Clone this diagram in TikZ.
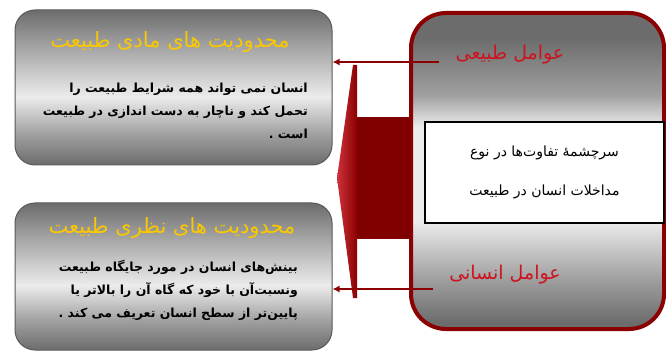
\documentclass[tikz,border=0pt]{standalone}
\usepackage{fontspec}
\newfontfamily\arabicfont[Script=Arabic]{DejaVu Sans}
\TeXXeTstate=1
\usetikzlibrary{positioning,arrows.meta,shadings}
\definecolor{factorred}{RGB}{139,0,0}
\definecolor{wedgered}{RGB}{205,50,60}
\definecolor{labelred}{RGB}{205,20,30}
\definecolor{titlegold}{RGB}{250,200,0}
\definecolor{greydark}{RGB}{108,108,108}
\definecolor{greymid}{RGB}{160,160,160}
\definecolor{greylight}{RGB}{236,236,236}
\pgfdeclareverticalshading{limitshade}{100bp}{color(0bp)=(greydark); color(25bp)=(greydark);
  color(35bp)=(greymid); color(47bp)=(greylight); color(64bp)=(greymid); color(75bp)=(greydark); color(100bp)=(greydark)}
\pgfdeclareverticalshading{factorshade}{100bp}{color(0bp)=(greydark); color(26bp)=(greydark);
  color(33bp)=(greymid); color(42bp)=(greylight); color(57bp)=(greylight); color(62bp)=(greymid); color(71bp)=(greydark); color(100bp)=(greydark)}
\tikzset{
  limitbox/.style={draw=gray!70!black, line width=1pt, rounded corners=20pt, shading=limitshade,
    minimum width=317pt, inner sep=0pt},
  limittitle/.style={text=titlegold, font=\arabicfont\fontsize{21}{24}\selectfont},
  limittext/.style={align=right, font=\arabicfont\bfseries\fontsize{12.5}{23}\selectfont, inner sep=0pt},
  factorlabel/.style={text=labelred, font=\arabicfont\fontsize{19}{22}\selectfont},
  linkarrow/.style={draw=factorred, line width=2.5pt, -{Latex[length=7pt,width=7pt]}},
}
\begin{document}
\begin{tikzpicture}[x=1pt, y=-1pt]
\useasboundingbox (0,0) rectangle (666,355);

% left boxes
\node[limitbox, minimum height=155pt] (matbox) at (173.5,87.5) {};
\node[limitbox, minimum height=147pt] (nazbox) at (173.5,276.5) {};
\node[limittitle] (mattitle) at (170,42) {\beginR محدودیت های مادی طبیعت\endR};
\node[limittitle] (naztitle) at (172,228) {\beginR محدودیت های نظری طبیعت\endR};
\node[limittext, anchor=east] (mattext) at (308,111)
  {\beginR انسان نمی تواند همه شرایط  طبیعت را\endR\\
   \beginR تحمل کند و ناچار به دست اندازی در طبیعت\endR\\
   \beginR است .\endR};
\node[limittext, anchor=east] (naztext) at (298,290)
  {\beginR بینش‌های انسان در مورد جایگاه طبیعت\endR\\
   \beginR ونسبت‌آن با خود که گاه آن را بالاتر یا\endR\\
   \beginR پایین‌تر از سطح انسان تعریف می کند .\endR};

% right box
\node[draw=factorred, line width=4pt, rounded corners=35pt, shading=factorshade,
  minimum width=253pt, minimum height=316pt, inner sep=0pt] (factorbox) at (537.5,171) {};
\node[draw=black, line width=1.2pt, fill=white, minimum width=239pt, minimum height=101pt,
  align=center, font=\arabicfont\fontsize{14}{17}\selectfont] (sourcebox) at (544.5,172.5)
  {\beginR سرچشمهٔ تفاوت‌ها در نوع\endR\\[22pt] \beginR مداخلات انسان در طبیعت\endR};
\node[factorlabel] (natlabel) at (510,55) {\beginR عوامل طبیعی\endR};
\node[factorlabel] (humlabel) at (505,275) {\beginR عوامل انسانی\endR};

% big arrow
\fill[factorred!92!black] (353,117) rectangle (411,239);
\shade[left color=wedgered, right color=factorred]
  (353,65) -- (337,178) -- (353,298) -- (357,298) -- (357,65) -- cycle;

% links
\coordinate (natstart) at (439,62);
\coordinate (humstart) at (433,289);
\draw[linkarrow] (natstart) -- (natstart -| matbox.east);
\draw[linkarrow] (humstart) -- (humstart -| nazbox.east);
\end{tikzpicture}
\end{document}
